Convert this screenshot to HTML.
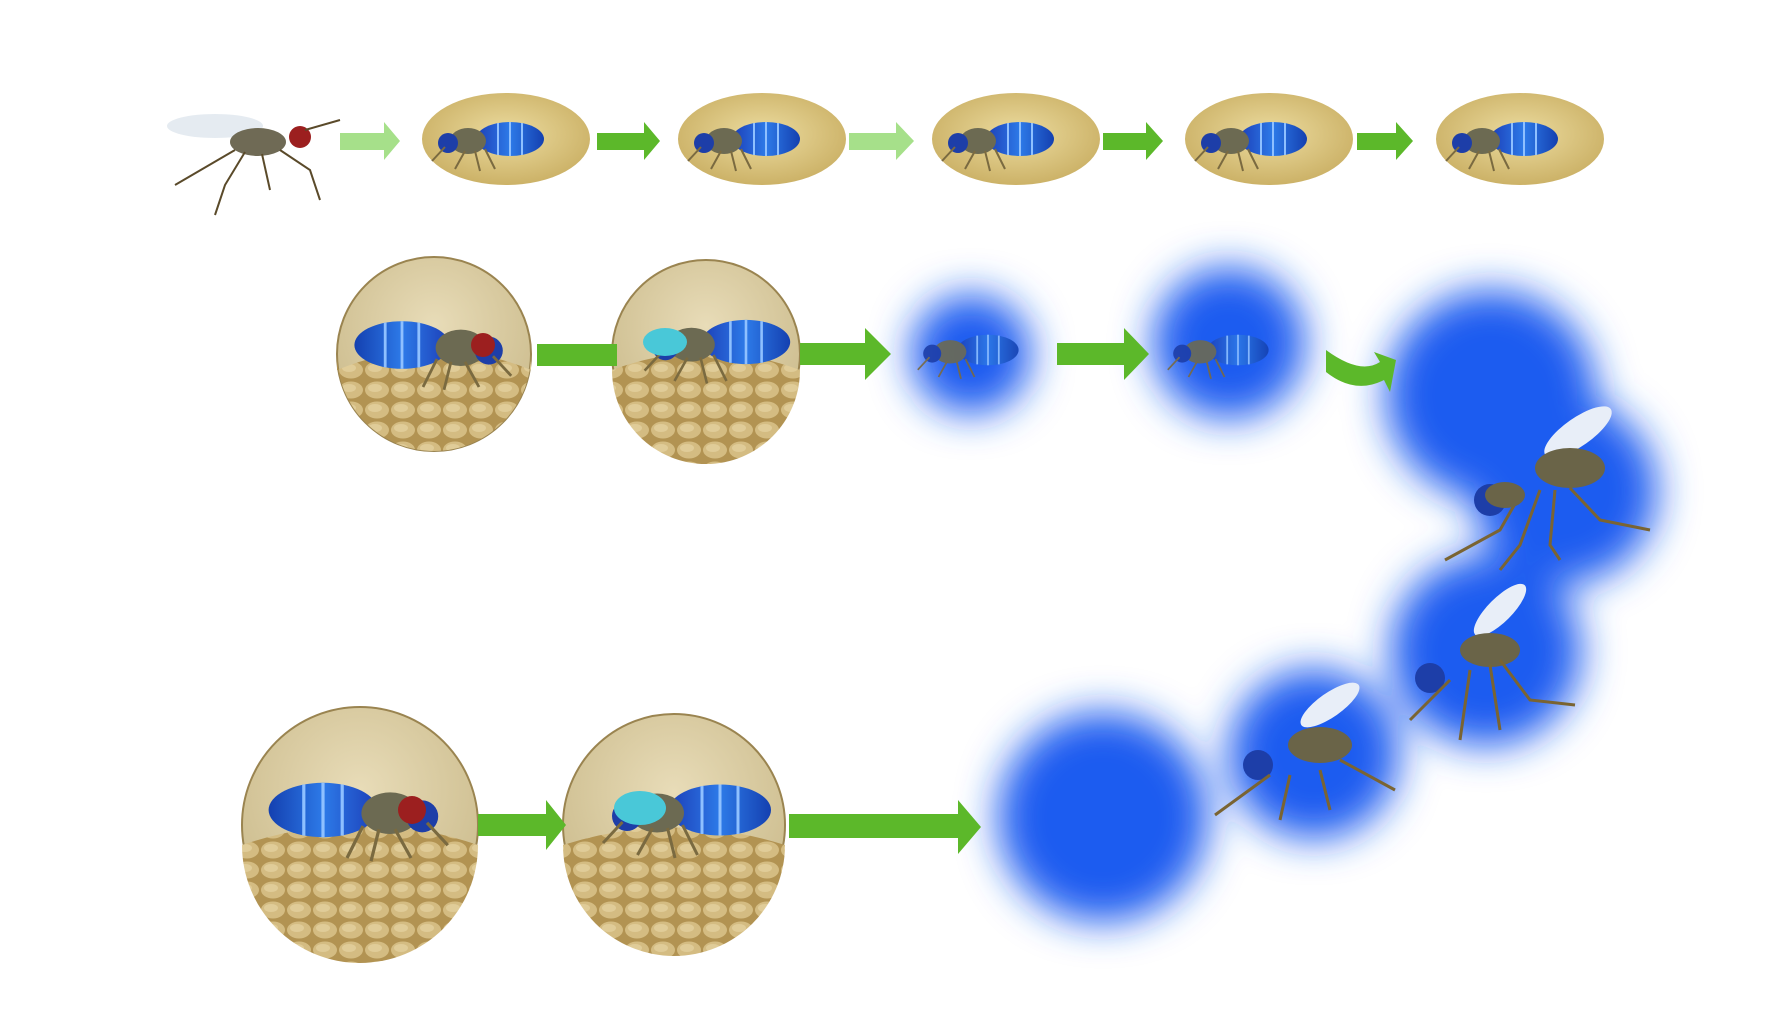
<!DOCTYPE html>
<html><head><meta charset="utf-8"><style>html,body{margin:0;padding:0;background:#fff}svg{display:block}</style></head>
<body>
<svg width="1792" height="1024" viewBox="0 0 1792 1024" xmlns="http://www.w3.org/2000/svg">
<defs>
<filter id="b" x="-50%" y="-50%" width="200%" height="200%"><feGaussianBlur stdDeviation="20"/></filter>
<radialGradient id="egg" cx="50%" cy="45%" r="60%"><stop offset="0" stop-color="#ecdca0"/><stop offset="1" stop-color="#c9ae62"/></radialGradient>
<radialGradient id="circ" cx="50%" cy="35%" r="65%"><stop offset="0" stop-color="#e8dcb8"/><stop offset="1" stop-color="#cbbb8c"/></radialGradient>
<pattern id="peb" width="26" height="20" patternUnits="userSpaceOnUse"><rect width="26" height="20" fill="#b29352"/><ellipse cx="13" cy="10" rx="12" ry="8.5" fill="#d4bc82"/><ellipse cx="11" cy="8" rx="7" ry="4" fill="#e0cc98"/></pattern>
<linearGradient id="stripe" x1="0" x2="1"><stop offset="0" stop-color="#1c3fb8"/><stop offset="0.5" stop-color="#2d7ae8"/><stop offset="1" stop-color="#1440b0"/></linearGradient>
<g id="bug">
<ellipse cx="20" cy="0" rx="34" ry="17" fill="url(#stripe)"/>
<g stroke="#8ec0ff" stroke-width="2"><line x1="8" y1="-16" x2="8" y2="16"/><line x1="20" y1="-17" x2="20" y2="17"/><line x1="32" y1="-16" x2="32" y2="16"/></g>
<ellipse cx="-22" cy="2" rx="18" ry="13" fill="#6c6a52"/>
<circle cx="-42" cy="4" r="10" fill="#1d3ea8"/>
<g stroke="#7a6a40" stroke-width="2" fill="none"><path d="M-25 12 L-35 30"/><path d="M-15 12 L-10 32"/><path d="M-5 10 L5 30"/><path d="M-45 8 L-58 22"/></g>
</g>
</defs>
<rect width="1792" height="1024" fill="#fff"/>

<g fill="#1a5cf0" filter="url(#b)">
<circle cx="971" cy="354" r="60"/>
<circle cx="1229" cy="343" r="76"/>
<circle cx="1491" cy="395" r="105"/>
<circle cx="1565" cy="491" r="92"/>
<circle cx="1486" cy="651" r="95"/>
<circle cx="1314" cy="754" r="85"/>
<circle cx="1103" cy="817" r="105"/>
</g>

<ellipse cx="215" cy="126" rx="48" ry="12" fill="#dfe6ee" opacity="0.8"/>
<ellipse cx="258" cy="142" rx="28" ry="14" fill="#6f6a55"/>
<circle cx="300" cy="137" r="11" fill="#9c1f1f"/>
<g stroke="#5a4a2a" stroke-width="2" fill="none"><path d="M245 152 L225 185 L215 215"/><path d="M262 154 L270 190"/><path d="M280 150 L310 170 L320 200"/><path d="M305 130 L340 120"/><path d="M235 150 L175 185"/></g>

<g>
<ellipse cx="506" cy="139" rx="84" ry="46" fill="url(#egg)"/>
<ellipse cx="762" cy="139" rx="84" ry="46" fill="url(#egg)"/>
<ellipse cx="1016" cy="139" rx="84" ry="46" fill="url(#egg)"/>
<ellipse cx="1269" cy="139" rx="84" ry="46" fill="url(#egg)"/>
<ellipse cx="1520" cy="139" rx="84" ry="46" fill="url(#egg)"/>
</g>
<use href="#bug" transform="translate(490,139)"/>
<use href="#bug" transform="translate(746,139)"/>
<use href="#bug" transform="translate(1000,139)"/>
<use href="#bug" transform="translate(1253,139)"/>
<use href="#bug" transform="translate(1504,139)"/>

<g fill="#5cb82a">
<polygon points="340,133 384,133 384,122 400,141 384,160 384,150 340,150" fill="#a6e08a"/>
<polygon points="597,133 644,133 644,122 660,141 644,160 644,150 597,150"/>
<polygon points="849,133 896,133 896,122 914,141 896,160 896,150 849,150" fill="#a6e08a"/>
<polygon points="1103,133 1146,133 1146,122 1163,141 1146,160 1146,150 1103,150"/>
<polygon points="1357,133 1396,133 1396,122 1413,141 1396,160 1396,150 1357,150"/>
</g>

<circle cx="434" cy="354" r="97" fill="url(#circ)" stroke="#9a8450" stroke-width="2"/>
<path d="M337 370 Q434 330 531 370 L531 354 A97 97 0 0 1 337 354Z" fill="url(#peb)"/>
<circle cx="706" cy="354" r="94" fill="url(#circ)" stroke="#9a8450" stroke-width="2"/>
<path d="M612 370 Q706 335 800 370 A94 94 0 0 1 612 370Z" fill="url(#peb)"/>
<use href="#bug" transform="translate(430,345) scale(1.4) scale(-1,1)"/>
<circle cx="483" cy="345" r="12" fill="#9c1f1f"/>
<use href="#bug" transform="translate(720,342) scale(1.3)"/>
<ellipse cx="665" cy="342" rx="22" ry="14" fill="#49c8d8"/>

<g fill="#5cb82a">
<polygon points="537,344 617,344 617,366 537,366"/>
<polygon points="800,343 865,343 865,328 891,354 865,380 865,365 800,365"/>
<polygon points="1057,343 1124,343 1124,328 1149,354 1124,380 1124,365 1057,365"/>
<path d="M1326 350 Q1360 375 1380 362 L1374 352 L1396 360 L1390 392 L1384 380 Q1355 395 1326 372Z"/>
</g>

<use href="#bug" transform="translate(970,350) scale(0.9)" opacity="0.9"/>
<use href="#bug" transform="translate(1220,350) scale(0.9)" opacity="0.9"/>

<g>
<ellipse cx="1578" cy="432" rx="40" ry="14" fill="#e8eef8" transform="rotate(-35 1578 432)"/>
<ellipse cx="1570" cy="468" rx="35" ry="20" fill="#6a6448"/>
<circle cx="1490" cy="500" r="16" fill="#1d3ea8"/>
<g stroke="#7a6432" stroke-width="3" fill="none"><path d="M1520 495 L1500 530 L1445 560"/><path d="M1540 490 L1520 545 L1500 570"/><path d="M1570 488 L1600 520 L1650 530"/><path d="M1555 490 L1550 545 L1560 560"/></g>
<ellipse cx="1505" cy="495" rx="20" ry="13" fill="#6a6448"/>

<ellipse cx="1500" cy="610" rx="35" ry="12" fill="#e8eef8" transform="rotate(-45 1500 610)"/>
<ellipse cx="1490" cy="650" rx="30" ry="17" fill="#6a6448"/>
<circle cx="1430" cy="678" r="15" fill="#1d3ea8"/>
<g stroke="#7a6432" stroke-width="3" fill="none"><path d="M1450 680 L1410 720"/><path d="M1470 670 L1460 740"/><path d="M1490 665 L1500 730"/><path d="M1500 660 L1530 700 L1575 705"/></g>

<ellipse cx="1330" cy="705" rx="35" ry="12" fill="#e8eef8" transform="rotate(-35 1330 705)"/>
<ellipse cx="1320" cy="745" rx="32" ry="18" fill="#6a6448"/>
<circle cx="1258" cy="765" r="15" fill="#1d3ea8"/>
<g stroke="#7a6432" stroke-width="3" fill="none"><path d="M1270 775 L1215 815"/><path d="M1290 775 L1280 820"/><path d="M1320 770 L1330 810"/><path d="M1340 760 L1395 790"/></g>
</g>

<circle cx="360" cy="825" r="118" fill="url(#circ)" stroke="#9a8450" stroke-width="2"/>
<path d="M242 845 Q360 805 478 845 A118 118 0 0 1 242 845Z" fill="url(#peb)"/>
<circle cx="674" cy="825" r="111" fill="url(#circ)" stroke="#9a8450" stroke-width="2"/>
<path d="M563 845 Q674 810 785 845 A111 111 0 0 1 563 845Z" fill="url(#peb)"/>
<use href="#bug" transform="translate(355,810) scale(1.6) scale(-1,1)"/>
<circle cx="412" cy="810" r="14" fill="#9c1f1f"/>
<use href="#bug" transform="translate(690,810) scale(1.5)"/>
<ellipse cx="640" cy="808" rx="26" ry="17" fill="#49c8d8"/>
<g fill="#5cb82a">
<polygon points="478,814 546,814 546,800 566,825 546,850 546,836 478,836"/>
<polygon points="789,814 958,814 958,800 981,827 958,854 958,838 789,838"/>
</g>
</svg>
</body></html>
